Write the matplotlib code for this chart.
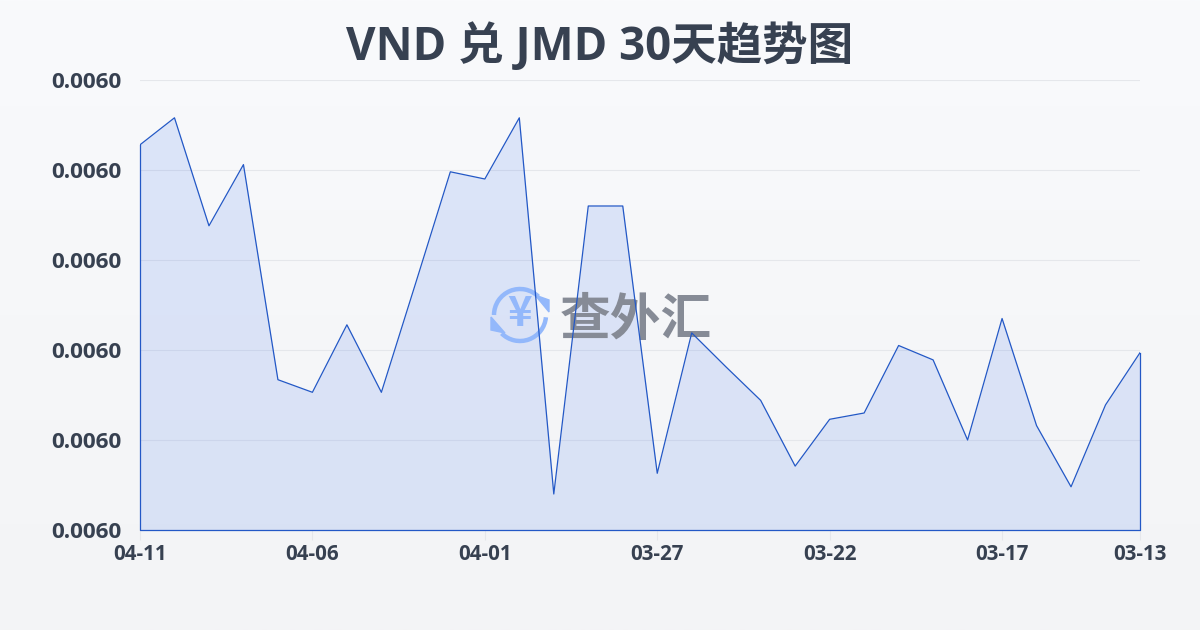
import matplotlib
matplotlib.use("Agg")
import matplotlib.pyplot as plt
import numpy as np
from matplotlib.patches import Arc, Polygon
from matplotlib.transforms import Affine2D

plt.rcParams['font.family'] = ['Open Sans', 'Noto Sans CJK SC', 'DejaVu Sans']

title = "VND 兑 JMD 30天趋势图"
dates = ["04-11", "04-10", "04-09", "04-08", "04-07", "04-06", "04-05", "04-04", "04-03", "04-02",
         "04-01", "03-31", "03-30", "03-29", "03-28", "03-27", "03-26", "03-25", "03-24", "03-23",
         "03-22", "03-21", "03-20", "03-19", "03-18", "03-17", "03-16", "03-15", "03-14", "03-13"]
rates = [0.0060228, 0.0060258, 0.0060138, 0.0060206, 0.0059967, 0.0059953, 0.0060028, 0.0059953,
         0.0060075, 0.0060198, 0.0060190, 0.0060258, 0.0059840, 0.0060160, 0.0060160, 0.0059863,
         0.0060019, 0.0059981, 0.0059944, 0.0059871, 0.0059923, 0.0059930, 0.0060005, 0.0059989,
         0.0059900, 0.0060035, 0.0059916, 0.0059848, 0.0059939, 0.0059997]
y_ticks = [0.00598, 0.00599, 0.00600, 0.00601, 0.00602, 0.00603]
x_ticks = [0, 5, 10, 15, 20, 25, 29]

text_color = "#374151"
line_color = "#2358c6"
fill_color = "#2563eb"
icon_color = "#93b8fb"

fig = plt.figure(figsize=(12, 6.3), dpi=100)

# page background, light gradient top to bottom
bg = fig.add_axes([0, 0, 1, 1], zorder=-1)
bg.imshow(np.linspace(0, 1, 256).reshape(-1, 1), aspect="auto",
          cmap=matplotlib.colors.LinearSegmentedColormap.from_list("bg", ["#f9fafc", "#f3f4f6"]))
bg.axis("off")

ax = fig.add_axes([140 / 1200, 100 / 630, 1000 / 1200, 450 / 630])
ax.patch.set_alpha(0)
x = np.arange(len(rates))
ax.fill_between(x, rates, y_ticks[0], color=fill_color, alpha=0.13, lw=0, zorder=1)

# watermark, in image pixels (y down, so arc angles run clockwise on screen)
px = Affine2D().scale(1, -1).translate(0, 630)
ax.text(636, 320, "查外汇", transform=px, fontsize=36.5, fontweight="bold", color="#868b96",
        family=['Noto Sans CJK SC'], ha="center", va="center", zorder=2, clip_on=False)
ax.add_patch(Arc((520, 315), 52, 52, theta1=180, theta2=315, lw=3.2, color=icon_color, transform=px, zorder=2))
ax.add_patch(Arc((520, 315), 52, 52, theta1=5, theta2=135, lw=3.2, color=icon_color, transform=px, zorder=2))
ax.add_patch(Polygon([[535, 295], [549, 300], [549, 312]], color=icon_color, transform=px, zorder=2))
ax.add_patch(Polygon([[491, 317], [491, 330], [505, 333]], color=icon_color, transform=px, zorder=2))
ax.text(520, 314, "¥", transform=px, fontsize=30, fontweight="bold", color=icon_color,
        family=['Noto Sans CJK SC'], ha="center", va="center", zorder=2, clip_on=False)

ax.plot(x, rates, color=line_color, lw=0.9, zorder=3)
ax.plot([0, 0, x[-1], x[-1]], [rates[0], y_ticks[0], y_ticks[0], rates[-1]], color=line_color, lw=0.9, zorder=3,
        clip_on=False)

ax.set_xlim(0, len(rates) - 1)
ax.set_ylim(y_ticks[0], y_ticks[-1])
ax.set_yticks(y_ticks)
ax.set_yticklabels(["%.4f" % v for v in y_ticks], fontsize=16.2, fontweight="bold", color=text_color)
# y labels sit a little above their grid lines
for lab in ax.get_yticklabels():
    lab.set_transform(lab.get_transform() + Affine2D().translate(0, 1.5))
ax.set_xticks(x_ticks)
ax.set_xticklabels([dates[i] for i in x_ticks], fontsize=14.8, fontweight="bold", color=text_color)
ax.tick_params(axis="y", length=0, pad=13.5)
ax.tick_params(axis="x", length=7, width=0.8, color="#e5e7eb", pad=3)
ax.grid(axis="y", color="#e5e7eb", lw=0.8)
ax.set_axisbelow(True)
for s in ax.spines.values():
    s.set_visible(False)

fig.text(0.5, 1 - 47 / 630, title, ha="center", va="center", fontsize=32.8, fontweight="bold", color=text_color)

fig.savefig("out.png", dpi=100)
